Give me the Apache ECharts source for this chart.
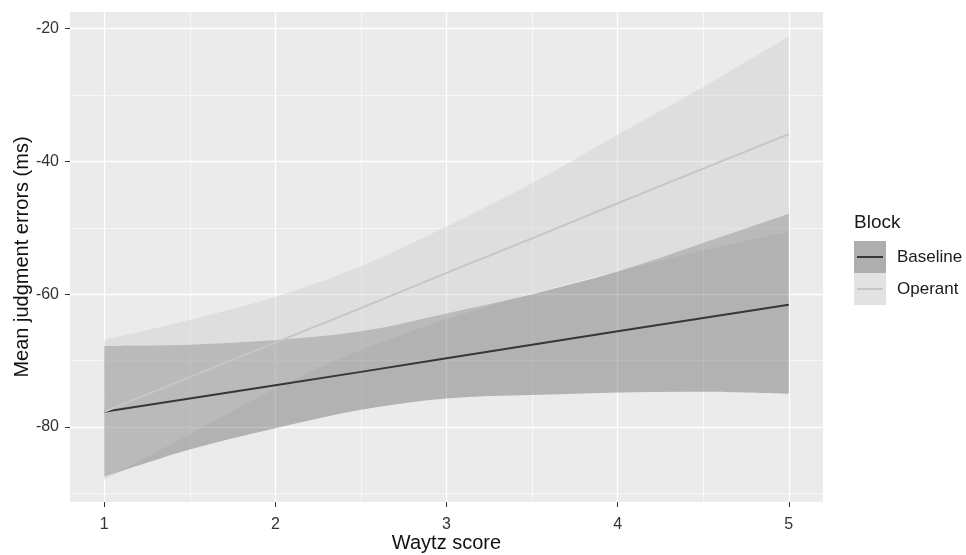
<!DOCTYPE html>
<html><head><meta charset="utf-8">
<script src="https://cdn.jsdelivr.net/npm/echarts@6/dist/echarts.min.js"></script>
<style>html,body{margin:0;padding:0;background:#fff}#c{width:966px;height:555px}</style>
</head><body><div id="c"></div>
<script>
// ---- data ----
const waytz = [1, 1.5, 2, 2.5, 3, 3.5, 4, 4.5, 5];
const baselineFit   = [-77.7, -75.7, -73.7, -71.7, -69.65, -67.6, -65.6, -63.6, -61.6];
const baselineLower = [-87.5, -83.4, -80.2, -77.4, -75.7, -75.2, -74.8, -74.7, -75.0];
const baselineUpper = [-67.8, -67.6, -66.9, -65.6, -62.9, -60.0, -56.6, -52.3, -47.9];
const operantFit    = [-77.7, -72.5, -67.3, -62.1, -56.8, -51.6, -46.3, -41.1, -35.9];
const operantLower  = [-88.0, -81.1, -74.2, -68.4, -63.8, -59.9, -56.6, -53.4, -50.6];
const operantUpper  = [-66.9, -63.9, -60.4, -55.8, -49.8, -43.3, -36.0, -28.8, -21.2];
const blocks = ['Baseline', 'Operant'];
const xTicks = [1, 2, 3, 4, 5];
const xMinor = [1.5, 2.5, 3.5, 4.5];
const yTicks = [-80, -60, -40, -20];
const yMinor = [-90, -70, -50, -30];

const FONT = 'Liberation Sans, Arial, sans-serif';
const pair = ys => waytz.map((x, i) => [x, ys[i]]);

// Catmull-Rom curve through pixel points (rendering only)
function curve(pts, moveFirst) {
  let d = (moveFirst ? 'M' : 'L') + pts[0][0] + ' ' + pts[0][1];
  for (let i = 0; i < pts.length - 1; i++) {
    const p0 = pts[Math.max(i - 1, 0)], p1 = pts[i], p2 = pts[i + 1], p3 = pts[Math.min(i + 2, pts.length - 1)];
    const c1 = [p1[0] + (p2[0] - p0[0]) / 6, p1[1] + (p2[1] - p0[1]) / 6];
    const c2 = [p2[0] - (p3[0] - p1[0]) / 6, p2[1] - (p3[1] - p1[1]) / 6];
    d += 'C' + c1[0] + ' ' + c1[1] + ' ' + c2[0] + ' ' + c2[1] + ' ' + p2[0] + ' ' + p2[1];
  }
  return d;
}

// confidence band drawn as one shape through the chart's own coordinate system
const band = (name, lo, hi, color) => ({
  name, type: 'custom', silent: true,
  data: waytz.map((x, i) => [x, lo[i], hi[i]]),
  encode: { x: 0, y: [1, 2] },
  itemStyle: { color },
  renderItem: (params, api) => {
    if (params.dataIndex !== 0) return null;
    const n = params.dataInsideLength;
    const top = [], bot = [];
    for (let j = 0; j < n; j++) {
      const x = api.value(0, j);
      top.push(api.coord([x, api.value(2, j)]));
      bot.push(api.coord([x, api.value(1, j)]));
    }
    const d = curve(top, true) + curve(bot.reverse(), false) + 'Z';
    return { type: 'path', shape: { pathData: d }, style: { fill: color } };
  }
});
const fit = (name, ys, color) => ({
  name, type: 'line', data: pair(ys), symbol: 'none', silent: true,
  lineStyle: { width: 2, color }, itemStyle: { color }
});

const xBase = { type: 'value', min: 0.8, max: 5.2, gridIndex: 0, position: 'bottom' };
const yBase = { type: 'value', min: -91.3, max: -17.5, gridIndex: 0, position: 'left' };

const option = {
  animation: false,
  backgroundColor: '#ffffff',
  textStyle: { fontFamily: FONT },
  grid: { left: 70, right: 143, top: 12, bottom: 53, show: true, backgroundColor: '#EBEBEB', borderWidth: 0,
          containLabel: false, outerBoundsMode: 'none' },
  title: {
    text: 'Block', left: 854, top: 213, padding: 0,
    textStyle: { fontFamily: FONT, fontSize: 19, fontWeight: 'normal', color: '#1a1a1a' }
  },
  legend: {
    orient: 'vertical', left: 854, top: 241, padding: 0,
    itemWidth: 32, itemHeight: 32, itemGap: 0, icon: 'rect',
    selectedMode: false,
    textStyle: { fontFamily: FONT, fontSize: 17, color: '#1a1a1a', padding: [0, 0, 0, 6] },
    data: [
      { name: blocks[0], itemStyle: { color: '#AEAEAE', borderWidth: 0 } },
      { name: blocks[1], itemStyle: { color: '#E2E2E2', borderWidth: 0 } }
    ]
  },
  xAxis: [
    Object.assign({}, xBase, {
      name: 'Waytz score', nameLocation: 'middle', nameGap: 31, nameMoveOverlap: false,
      nameTextStyle: { fontFamily: FONT, fontSize: 20, color: '#111' },
      axisLine: { show: false },
      axisTick: { show: true, length: 5, customValues: xTicks, lineStyle: { color: '#333', width: 1 } },
      axisLabel: { customValues: xTicks, margin: 15, fontFamily: FONT, fontSize: 16, color: '#333' },
      splitLine: { show: true, lineStyle: { color: '#ffffff', width: 1.3 } }
    }),
    Object.assign({}, xBase, {
      axisLine: { show: false },
      axisTick: { show: false, customValues: xMinor },
      axisLabel: { show: false, customValues: xMinor },
      splitLine: { show: true, lineStyle: { color: '#ffffff', width: 0.6 } }
    })
  ],
  yAxis: [
    Object.assign({}, yBase, {
      name: 'Mean judgment errors (ms)', nameLocation: 'middle', nameGap: 38, nameRotate: 90, nameMoveOverlap: false,
      nameTextStyle: { fontFamily: FONT, fontSize: 20, color: '#111' },
      axisLine: { show: false },
      axisTick: { show: true, length: 5, customValues: yTicks, lineStyle: { color: '#333', width: 1 } },
      axisLabel: { customValues: yTicks, margin: 11, fontFamily: FONT, fontSize: 16, color: '#333' },
      splitLine: { show: true, lineStyle: { color: '#ffffff', width: 1.3 } }
    }),
    Object.assign({}, yBase, {
      axisLine: { show: false },
      axisTick: { show: false, customValues: yMinor },
      axisLabel: { show: false, customValues: yMinor },
      splitLine: { show: true, lineStyle: { color: '#ffffff', width: 0.6 } }
    })
  ],
  series: [
    band(blocks[0], baselineLower, baselineUpper, 'rgba(51,51,51,0.31)'),
    fit(blocks[0], baselineFit, '#363636'),
    band(blocks[1], operantLower, operantUpper, 'rgba(200,200,200,0.36)'),
    fit(blocks[1], operantFit, '#C6C6C6')
  ],
  graphic: [
    { type: 'line', silent: true, z: 100, shape: { x1: 857, y1: 257, x2: 883, y2: 257 }, style: { stroke: '#363636', lineWidth: 2 } },
    { type: 'line', silent: true, z: 100, shape: { x1: 857, y1: 289, x2: 883, y2: 289 }, style: { stroke: '#C6C6C6', lineWidth: 2 } }
  ]
};

const chart = echarts.init(document.getElementById('c'), null, { renderer: 'canvas' });
chart.setOption(option);
</script>
</body></html>
